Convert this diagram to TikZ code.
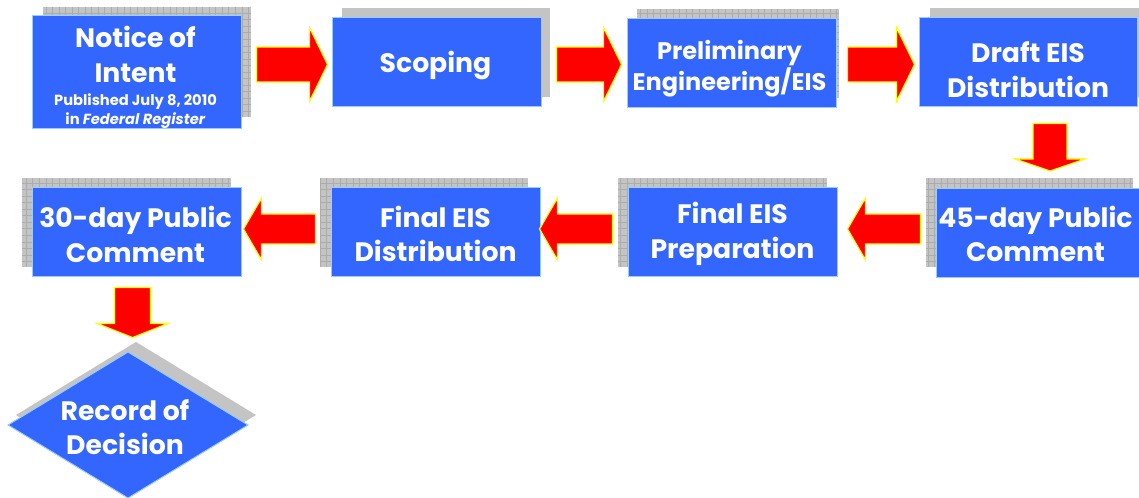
\documentclass[tikz,border=0pt]{standalone}
\usepackage{fontspec}
\setmainfont{Poppins}
\usetikzlibrary{calc}
\definecolor{boxblue}{RGB}{51,102,255}
\definecolor{boxedge}{RGB}{153,204,255}
\definecolor{shgray}{RGB}{196,196,196}
\definecolor{grline}{RGB}{172,172,172}
\definecolor{arrred}{RGB}{255,0,0}
\definecolor{arryel}{RGB}{255,255,0}
\tikzset{
  box/.style={draw=boxedge, line width=0.75pt, fill=boxblue,
    inner sep=0pt, minimum width={209*0.75pt}, minimum height={89*0.75pt}},
  lbl/.style={text=white, align=center, inner sep=0pt,
    font=\fontsize{20}{26}\selectfont\bfseries},
  blk/.style={fill=arrred, draw=arryel, line width=0.9pt, line join=miter},
  plainshadow/.style={fill=shgray},
  gridlines/.style={draw=grline, line width=0.3pt},
}
% tail, tip, shaft half, head half, head length
\newcommand\blockarrow[5]{%
  \coordinate (#1-b) at ($(#2)!#5!(#1)$);
  \draw[blk] ($(#1)!#3!90:(#2)$) -- ($(#1-b)!#3!90:(#2)$) -- ($(#1-b)!#4!90:(#2)$)
    -- (#2) -- ($(#1-b)!#4!-90:(#2)$) -- ($(#1-b)!#3!-90:(#2)$) -- ($(#1)!#3!-90:(#2)$) -- cycle;}
\newcommand\gridshadow[4]{%
  \begin{scope}
    \clip (#1,#2) rectangle (#3,#4);
    \fill[shgray] (#1,#2) rectangle (#3,#4);
    \draw[gridlines, step=4.9pt] (#1,#2) grid (#3,#4);
  \end{scope}}
\begin{document}
\begin{tikzpicture}[x=0.75pt, y=-0.75pt]
\useasboundingbox (0,0) rectangle (1139,498);
\fill[white] (0,0) rectangle (1139,498);

% shadows
\gridshadow{43}{7}{251}{117}
\fill[plainshadow] (342,8) rectangle (550,97);
\gridshadow{637}{9}{839}{98}
\fill[plainshadow] (930,8) rectangle (1139,97);
\gridshadow{926}{178}{1133}{267}
\gridshadow{618}{178}{827}{267}
\gridshadow{320}{178}{528}{267}
\gridshadow{22}{178}{231}{267}
\fill[plainshadow] (136,342) -- (256,415) -- (136,488) -- (16,415) -- cycle;

% boxes
\node[box, minimum height={113*0.75pt}] (notice) at (136.5,72.5) {};
\node[box] (scoping) at (436.5,62.5) {};
\node[box] (prelim) at (731.5,63.5) {};
\node[box, minimum width={218*0.75pt}] (draft) at (1028,62.5) {};
\node[box] (d45) at (1040.5,233) {};
\node[box] (prep) at (732.5,232.5) {};
\node[box] (dist) at (435.5,232.5) {};
\node[box] (d30) at (136.5,232.5) {};
\fill[boxblue, draw=boxedge, line width=0.75pt] (128,352) -- (248,425) -- (128,498) -- (8,425) -- cycle;

% labels
\node[lbl] (notice-t) at ($(notice)+(-1,5)$)
  {Notice of\\Intent\\[-9pt]{\fontsize{11}{14}\selectfont Published July 8, 2010}\\[-11.5pt]{\fontsize{11}{14}\selectfont in \textit{Federal Register}}};
\node[lbl] (scoping-t) at ($(scoping)+(-1,3)$) {Scoping};
\node[lbl, font=\fontsize{18}{23.5}\selectfont\bfseries] (prelim-t) at ($(prelim)+(-2,5)$) {Preliminary\\Engineering/EIS};
\node[lbl] (draft-t) at ($(draft)+(0,7)$) {Draft EIS\\Distribution};
\node[lbl] (d45-t) at ($(d45)+(-5,1)$) {45-day Public\\Comment};
\node[lbl] (prep-t) at ($(prep)+(0,1.5)$) {Final EIS\\Preparation};
\node[lbl] (dist-t) at ($(dist)+(0,1.5)$) {Final EIS\\Distribution};
\node[lbl] (d30-t) at ($(d30)+(-1,2)$) {30-day Public\\Comment};
\node[lbl] (rod) at (125,427) {Record of\\Decision};

% arrows
\coordinate (a1t) at ($(notice.east |- scoping.west)+(15,2)$);
\coordinate (a1h) at ($(scoping.west)+(-4,2)$);
\blockarrow{a1t}{a1h}{13.1pt}{27.7pt}{13.5pt}
\coordinate (a2t) at ($(scoping.east)+(15,2)$);
\coordinate (a2h) at ($(prelim.west)+(-5,1)$);
\blockarrow{a2t}{a2h}{13.1pt}{27.7pt}{13.5pt}
\coordinate (a3t) at ($(prelim.east)+(11,1)$);
\coordinate (a3h) at ($(draft.west)+(-4,2)$);
\blockarrow{a3t}{a3h}{13.1pt}{27.7pt}{13.5pt}
\coordinate (a4t) at ($(draft.south)+(22,16)$);
\coordinate (a4h) at ($(draft.south |- d45.north)+(22,-17)$);
\blockarrow{a4t}{a4h}{12.75pt}{26.25pt}{9pt}
\coordinate (a5t) at ($(d45.west)+(-15,-4)$);
\coordinate (a5h) at ($(prep.east)+(10,-3.5)$);
\blockarrow{a5t}{a5h}{11.25pt}{23.25pt}{13.5pt}
\coordinate (a6t) at ($(prep.west)+(-15,-3.5)$);
\coordinate (a6h) at ($(dist.east)+(-1,-3.5)$);
\blockarrow{a6t}{a6h}{11.25pt}{23.25pt}{13.5pt}
\coordinate (a7t) at ($(dist.west)+(-15,-3.5)$);
\coordinate (a7h) at ($(d30.east)+(2,-3.5)$);
\blockarrow{a7t}{a7h}{11.25pt}{23.25pt}{13.5pt}
\coordinate (a8t) at ($(d30.south)+(-4,10)$);
\coordinate (a8h) at ($(d30.south)+(-4,60)$);
\blockarrow{a8t}{a8h}{13.5pt}{26.6pt}{10.5pt}
\end{tikzpicture}
\end{document}
